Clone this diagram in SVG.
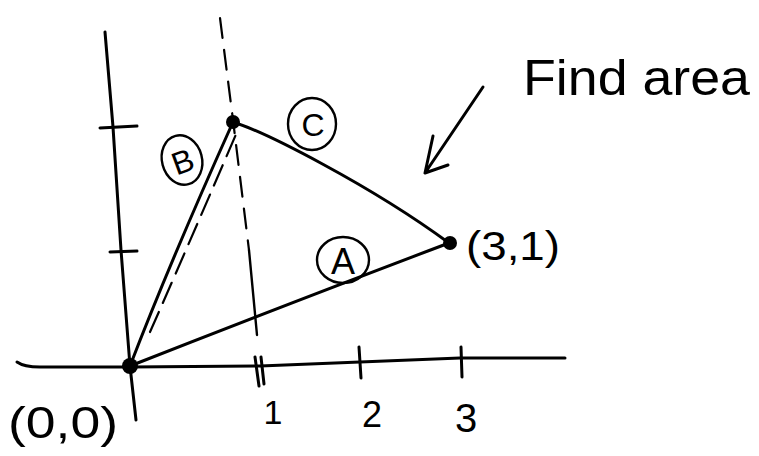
<svg xmlns="http://www.w3.org/2000/svg" width="759" height="456" viewBox="0 0 759 456">
<style>
  .ink { fill: none; stroke: #000; stroke-width: 3; stroke-linecap: round; stroke-linejoin: round; }
  .thin { fill: none; stroke: #000; stroke-width: 2.4; stroke-linecap: round; }
  .dash { fill: none; stroke: #000; stroke-width: 2.2; stroke-dasharray: 20 12; stroke-linecap: round; }
  .dot { fill: #000; }
  .hand { font-family: "Liberation Sans", "DejaVu Sans", sans-serif; fill: #000; }
</style>
<rect width="759" height="456" fill="#fff"/>

<g id="axes">
  <path class="ink" d="M105,32 L113,127 L121,250 L130,366 L136,420"/>
  <path class="ink" d="M17,362 Q24,367 40,367 L130,367 L260,366 L460,358 L565,358"/>
  <path class="ink" d="M100,128 L137,126"/>
  <path class="ink" d="M110,252 L137,251"/>
  <path class="ink" d="M255,357 L259,386 M261,357 L264,384"/>
  <path class="ink" d="M359,347 L361,378"/>
  <path class="ink" d="M461,347 L462,377"/>
</g>

<g id="guide">
  <path class="dash" d="M220,18 L233,120 L249,250"/>
  <path class="thin" d="M249,250 L257,335"/>
  <path class="dash" d="M150,332 Q181,262 237,132" style="stroke-dasharray:22 10"/>
</g>

<g id="connectors">
  <path id="edge-A" class="ink" d="M130,366 Q280,307 449,243"/>
  <path id="edge-B" class="ink" d="M130,366 Q170,262 233,122"/>
  <path id="edge-C" class="ink" d="M233,122 C265,132 370,185 449,243"/>
  <path id="arrow" class="ink" d="M483,87 L425,173 M433,136 L425,173 L448,165"/>
</g>

<g id="node-origin"><circle class="dot" cx="130" cy="366" r="8"/></g>
<g id="node-top"><circle class="dot" cx="233" cy="122" r="7"/></g>
<g id="node-31"><circle class="dot" cx="450" cy="243" r="7"/></g>

<g id="label-A">
  <ellipse class="thin" cx="343" cy="260" rx="26" ry="23"/>
  <text class="hand" x="343" y="274" font-size="36" text-anchor="middle">A</text>
</g>
<g id="label-B">
  <ellipse class="thin" cx="182" cy="160" rx="20" ry="25" transform="rotate(-15 182 160)"/>
  <text class="hand" x="182" y="173" font-size="32" text-anchor="middle" transform="rotate(-20 182 160)">B</text>
</g>
<g id="label-C">
  <ellipse class="thin" cx="312" cy="124" rx="24" ry="26"/>
  <text class="hand" x="313" y="136" font-size="32" text-anchor="middle">C</text>
</g>

<g id="texts">
  <text class="hand" x="523" y="95" font-size="50" textLength="227" lengthAdjust="spacingAndGlyphs">Find area</text>
  <text class="hand" x="466" y="260" font-size="40" textLength="94" lengthAdjust="spacingAndGlyphs">(3,1)</text>
  <text class="hand" x="8" y="438" font-size="44" textLength="110" lengthAdjust="spacingAndGlyphs">(0,0)</text>
  <text class="hand" x="273" y="424" font-size="34" text-anchor="middle">1</text>
  <text class="hand" x="372" y="427" font-size="36" text-anchor="middle">2</text>
  <text class="hand" x="466" y="432" font-size="40" text-anchor="middle">3</text>
</g>
</svg>
